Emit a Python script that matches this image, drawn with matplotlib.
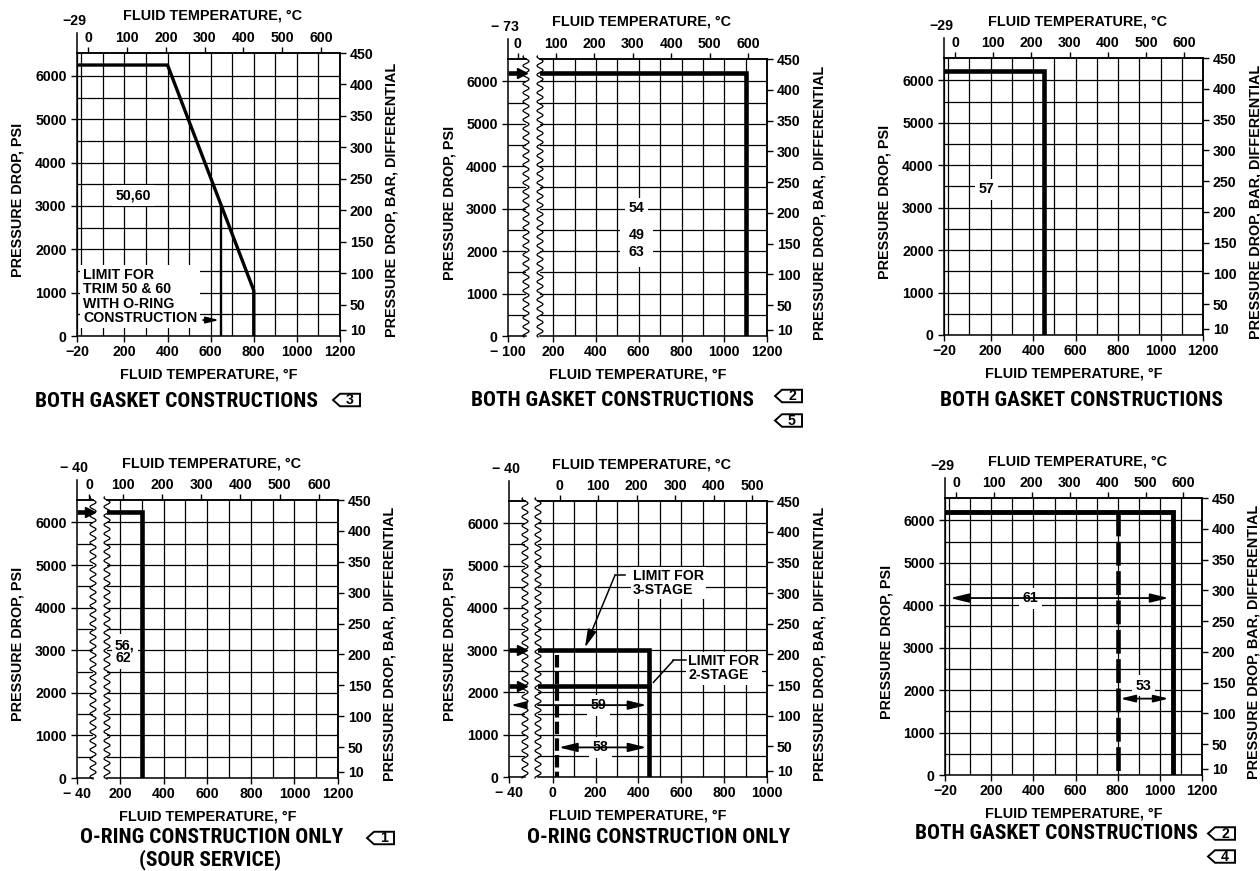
import numpy as np
import matplotlib
matplotlib.use("Agg")
import matplotlib.pyplot as plt
from matplotlib.lines import Line2D
from matplotlib.patches import Polygon
from matplotlib import font_manager

# ---------------- data ----------------
PSI_TICKS = [0, 1000, 2000, 3000, 4000, 5000, 6000]
PSI_MINOR = [500, 1500, 2500, 3500, 4500, 5500, 6000]
BAR_TICKS = [10, 50, 100, 150, 200, 250, 300, 350, 400, 450]
C_TICKS = [0, 100, 200, 300, 400, 500, 600]
C_TICKS_MAIN = [100, 200, 300, 400, 500, 600]
C_TICKS_P5 = [0, 100, 200, 300, 400, 500]
F_TICKS = [-20, 200, 400, 600, 800, 1000, 1200]
F_TICKS_MAIN = [200, 400, 600, 800, 1000, 1200]
F_TICKS_P5 = [0, 200, 400, 600, 800, 1000]
GRID_F = list(range(-100, 1300, 100))

# Panel 1 : trim 50, 60
p1_limit_F = [-20, 400, 800, 800]
p1_limit_psi = [6250, 6250, 1050, 0]
p1_oring_F = [650, 650]
p1_oring_psi = [3000, 0]

# Panel 2 : trim 54, 49, 63
p2_psi = 6200
p2_temp = 1100

# Panel 3 : trim 57
p3_psi = 6230
p3_temp = 450

# Panel 4 : trim 56, 62 (sour service)
p4_psi = 6250
p4_temp = 300

# Panel 5 : trim 58, 59
p5_psi_3stage = 3000
p5_psi_2stage = 2160
p5_temp = 450
p5_dash_temp = 20
p5_59_psi = 1700
p5_58_psi = 700

# Panel 6 : trim 61, 53
p6_psi = 6200
p6_temp = 1060
p6_dash_temp = 800
p6_61_psi = 4170
p6_53_psi = 1800

# ---------------- figure ----------------
W, H = 1260, 871
fig = plt.figure(figsize=(W / 100, H / 100), dpi=100)
fig.patch.set_facecolor("white")

names = {f.name for f in font_manager.fontManager.ttflist}
BOLD = "Liberation Sans" if "Liberation Sans" in names else "DejaVu Sans"
CAPF = next((n for n in ["Liberation Sans Narrow", "Roboto Condensed",
                         "Open Sans Condensed"] if n in names), BOLD)
plt.rcParams["font.family"] = [BOLD, "DejaVu Sans"]
plt.rcParams["font.weight"] = "bold"
plt.rcParams["font.size"] = 10

rend = fig.canvas.get_renderer()


def fit(s, target, **kw):
    t = fig.text(0, 0, s, fontsize=10, fontweight="bold", **kw)
    w = t.get_window_extent(rend).width
    t.remove()
    return 10 * target / w


TICK_FS = fit("1200", 31.5)
LAB_FS = fit("FLUID TEMPERATURE, \u00b0F", 177)
CAP_FS = fit("BOTH GASKET CONSTRUCTIONS", 282, family=CAPF)
GRID_LW = 0.9
SPINE_LW = 1.1
THICK = 3.3


def frac(L, T, R, B):
    return [L / W, 1 - B / H, (R - L) / W, (B - T) / H]


def f2c(f):
    return (np.asarray(f, dtype=float) - 32) / 1.8


def c2f(c):
    return np.asarray(c, dtype=float) * 1.8 + 32


def psi2bar(p):
    return np.asarray(p, dtype=float) / 14.5038


def bar2psi(b):
    return np.asarray(b, dtype=float) * 14.5038


PSI_TOP = float(bar2psi(max(BAR_TICKS))) + 1   # top of the grid = 450 bar


def neg_label(v, spaced):
    v = int(round(float(v)))
    if v < 0:
        return ("\u2212 " if spaced else "\u2212") + str(abs(v))
    return str(v)


def setup(ax, xlim, xticks, cticks, spaced, left, xgrid):
    ax.set_xlim(*xlim)
    ax.set_ylim(0, PSI_TOP)
    ax.set_xticks(xticks, labels=[neg_label(v, spaced) for v in xticks])
    ax.set_yticks(PSI_TICKS)
    ax.set_yticks(PSI_MINOR, minor=True)
    if xgrid:
        ax.set_xticks([v for v in GRID_F if xlim[0] < v < xlim[1]], minor=True)
        ax.grid(which="both", color="k", lw=GRID_LW)
    else:
        ax.grid(which="both", axis="y", color="k", lw=GRID_LW)
    ax.tick_params(which="minor", length=0)
    ax.tick_params(which="major", direction="out", length=4, width=1,
                   labelsize=TICK_FS, colors="k")
    ax.tick_params(axis="x", pad=2.5)
    ax.tick_params(axis="y", pad=3.5, left=left, labelleft=left,
                   right=False, labelright=False)
    for s in ax.spines.values():
        s.set_linewidth(SPINE_LW)
    sec = ax.secondary_xaxis("top", functions=(f2c, c2f))
    sec.set_xticks(cticks, labels=[str(c) for c in cticks])
    sec.tick_params(direction="out", length=4, width=1, pad=1.5, labelsize=TICK_FS)
    sec.spines["top"].set_linewidth(SPINE_LW)
    return sec


def wave(x, T, B, amp=3.0, period=9.0):
    ys = np.linspace(T - 3, B + 1, 500)
    xs = x + amp * np.sin(2 * np.pi * (ys - T) / period)
    fig.add_artist(Line2D(xs / W, 1 - ys / H, color="k", lw=0.9))


def ftext(x, y, s, **kw):
    kw.setdefault("ha", "center")
    kw.setdefault("va", "center")
    kw.setdefault("fontsize", LAB_FS)
    kw.setdefault("fontweight", "bold")
    return fig.text(x / W, 1 - y / H, s, **kw)


def build(L, T, R, B, xlim, xticks, cticks, spaced=False, strip=None):
    if strip is None:
        ax = fig.add_axes(frac(L, T, R, B))
        setup(ax, xlim, xticks, cticks, spaced, left=True, xgrid=True)
        axs = None
        xmin = xlim[0]
    else:
        sr, ml, sxlim, sxt, sct = strip
        axs = fig.add_axes(frac(L, T, sr, B))
        ax = fig.add_axes(frac(ml, T, R, B))
        setup(axs, sxlim, sxt, sct, spaced, left=True, xgrid=False)
        setup(ax, xlim, xticks, cticks, spaced, left=False, xgrid=True)
        axs.spines["right"].set_visible(False)
        ax.spines["left"].set_visible(False)
        wave(sr, T, B)
        wave(ml, T, B)
        xmin = sxlim[0]
    secy = ax.secondary_yaxis("right", functions=(psi2bar, bar2psi))
    secy.set_yticks(BAR_TICKS, labels=[str(b) for b in BAR_TICKS])
    secy.tick_params(direction="out", length=4, width=1, pad=3, labelsize=TICK_FS)
    secy.spines["right"].set_linewidth(SPINE_LW)

    cx, cy = (L + R) / 2, (T + B) / 2
    ftext(cx + 4, T - 37, "FLUID TEMPERATURE, \u00b0C")
    ftext(cx, B + 38, "FLUID TEMPERATURE, \u00b0F")
    ftext(L - 59, cy + 5, "PRESSURE DROP, PSI", rotation=90)
    ftext(R + 52, cy + 5, "PRESSURE DROP, BAR, DIFFERENTIAL", rotation=90)
    # extended left edge with the Celsius equivalent of the lowest temperature
    fig.add_artist(Line2D([L / W, L / W], [1 - T / H, 1 - (T - 20) / H],
                          color="k", lw=SPINE_LW))
    ftext(L - 3, T - 32, neg_label(f2c(xmin), spaced), fontsize=TICK_FS)
    return axs, ax


def lbl(ax, x, y, s, ha="center", pad=0.25, ls=1.15):
    ax.text(x, y, s, ha=ha, va="center", fontsize=TICK_FS, fontweight="bold",
            linespacing=ls, zorder=5,
            bbox=dict(boxstyle=f"square,pad={pad}", fc="white", ec="none"))


def arrow(ax, x0, x1, y, style="<|-|>", ms=10):
    ax.annotate("", xy=(x1, y), xytext=(x0, y), annotation_clip=False,
                arrowprops=dict(arrowstyle=f"{style},head_length=1.1,head_width=0.27",
                                lw=1.3, color="k", shrinkA=0, shrinkB=0,
                                mutation_scale=ms), zorder=6)


def strip_arrow(axs, y):
    x0, x1 = axs.get_xlim()
    span = x1 - x0
    axs.plot([x0, x1 - 0.22 * span], [y, y], color="k", lw=THICK,
             solid_capstyle="butt", zorder=4)
    axs.plot([x1 - 0.2 * span], [y], marker=">", ms=6.5, color="k",
             clip_on=False, zorder=4)


def caption(x, y, s):
    ftext(x, y, s, fontsize=CAP_FS, family=CAPF, fontweight="bold")


def tag(left, cy, num):
    w, h, d = 27, 12.5, 7
    pts = [(left, cy), (left + d, cy - h / 2), (left + w, cy - h / 2),
           (left + w, cy + h / 2), (left + d, cy + h / 2)]
    fig.add_artist(Polygon([(x / W, 1 - y / H) for x, y in pts], closed=True,
                           fill=False, lw=1.4, ec="k", transform=fig.transFigure))
    ftext(left + d + (w - d) / 2, cy, num, fontsize=TICK_FS)


# ---------------- Panel 1 ----------------
_, ax = build(77, 53, 340, 336, (-20, 1200), F_TICKS, C_TICKS)
ax.plot(p1_limit_F, p1_limit_psi, color="k", lw=2.4, solid_joinstyle="miter", zorder=4)
ax.plot(p1_oring_F, p1_oring_psi, color="k", lw=1.7, zorder=4)
lbl(ax, 241, 3240, "50,60")
lbl(ax, 8, 908, "LIMIT FOR\nTRIM 50 & 60\nWITH O-RING\nCONSTRUCTION", ha="left",
    pad=0.2, ls=1.05)
arrow(ax, 565, 640, 368, style="-|>", ms=7)
caption(176, 401, "BOTH GASKET CONSTRUCTIONS")
tag(333, 400, "3")

# ---------------- Panel 2 ----------------
axs, ax = build(508, 59, 767, 336, (138, 1200), F_TICKS_MAIN, C_TICKS_MAIN,
                spaced=True, strip=(526, 540, (-100, 145), [-100], [0]))
strip_arrow(axs, p2_psi)
x0 = ax.get_xlim()[0]
ax.plot([x0, p2_temp, p2_temp], [p2_psi, p2_psi, 0], color="k", lw=THICK,
        solid_joinstyle="miter", zorder=4)
lbl(ax, 591, 3007, "54")
lbl(ax, 591, 2185, "49\n63", pad=0.6, ls=1.25)
caption(612, 400, "BOTH GASKET CONSTRUCTIONS")
tag(775, 396, "2")
tag(775, 420.5, "5")

# ---------------- Panel 3 ----------------
_, ax = build(944, 58, 1203, 335, (-20, 1200), F_TICKS, C_TICKS)
ax.plot([-20, p3_temp, p3_temp], [p3_psi, p3_psi, 0], color="k", lw=THICK,
        solid_joinstyle="miter", zorder=4)
lbl(ax, 181, 3430, "57")
caption(1081, 400, "BOTH GASKET CONSTRUCTIONS")

# ---------------- Panel 4 ----------------
axs, ax = build(77, 500, 338, 778, (140, 1200), F_TICKS_MAIN, C_TICKS_MAIN,
                spaced=True, strip=(93, 107, (-40, 54), [-40], [0]))
strip_arrow(axs, p4_psi)
x0 = ax.get_xlim()[0]
ax.plot([x0, p4_temp, p4_temp], [p4_psi, p4_psi, 0], color="k", lw=THICK,
        solid_joinstyle="miter", zorder=4)
lbl(ax, 177, 2965, "56,\n62", ha="left", pad=0.25, ls=0.95)
caption(212, 837, "O-RING CONSTRUCTION ONLY")
caption(210, 860, "(SOUR SERVICE)")
tag(367, 838, "1")

# ---------------- Panel 5 ----------------
axs, ax = build(509, 501, 767, 777, (-69, 1000), F_TICKS_P5, C_TICKS_P5,
                spaced=True, strip=(525, 538, (-40, 35), [-40], []))
strip_arrow(axs, p5_psi_3stage)
strip_arrow(axs, p5_psi_2stage)
x0 = ax.get_xlim()[0]
ax.plot([x0, p5_temp, p5_temp], [p5_psi_3stage, p5_psi_3stage, 0], color="k",
        lw=THICK, solid_joinstyle="miter", zorder=4)
ax.plot([x0, p5_temp], [p5_psi_2stage, p5_psi_2stage], color="k", lw=THICK, zorder=4)
ax.plot([p5_dash_temp, p5_dash_temp], [p5_psi_3stage - 120, 0], color="k", lw=3.0,
        dashes=(3, 1), solid_capstyle="butt", zorder=4)
# 59 range (from the low end in the broken part up to 450 F)
sx0, sx1 = axs.get_xlim()
arrow(axs, sx1, sx0 + 8, p5_59_psi, style="-|>", ms=8)
arrow(ax, x0, p5_temp - 12, p5_59_psi, style="-|>")
lbl(ax, 212, p5_59_psi, "59")
arrow(ax, p5_dash_temp + 8, p5_temp - 12, p5_58_psi)
lbl(ax, 221, p5_58_psi, "58")
# limit call-outs
lbl(ax, 373, 4590, "LIMIT FOR\n3-STAGE", ha="left", pad=0.15, ls=1.05)
ax.plot([335, 290], [4766, 4766], color="k", lw=1.1, zorder=6)
ax.annotate("", xy=(150, 3060), xytext=(290, 4766), zorder=6,
            arrowprops=dict(arrowstyle="-|>,head_length=1.1,head_width=0.27",
                            lw=1.1, color="k", shrinkA=0, shrinkB=0, mutation_scale=10))
lbl(ax, 633, 2573, "LIMIT FOR\n2-STAGE", ha="left", pad=0.15, ls=1.05)
ax.plot([620, 563], [2757, 2757], color="k", lw=1.1, zorder=6)
ax.annotate("", xy=(469, 2234), xytext=(563, 2757), zorder=6,
            arrowprops=dict(arrowstyle="-", lw=1.1, color="k", shrinkA=0, shrinkB=0))
caption(659, 837, "O-RING CONSTRUCTION ONLY")

# ---------------- Panel 6 ----------------
_, ax = build(945, 498, 1202, 775, (-20, 1200), F_TICKS, C_TICKS)
ax.plot([-20, p6_temp, p6_temp], [p6_psi, p6_psi, 0], color="k", lw=3.5,
        solid_joinstyle="miter", zorder=4)
ax.plot([p6_dash_temp, p6_dash_temp], [p6_psi, 0], color="k", lw=3.3,
        dashes=(5.2, 1.2), solid_capstyle="butt", zorder=4)
arrow(ax, 5, p6_temp - 18, p6_61_psi)
lbl(ax, 384, p6_61_psi, "61")
arrow(ax, p6_dash_temp + 12, p6_temp - 18, p6_53_psi, ms=8)
lbl(ax, 922, 2104, "53")
caption(1056, 833, "BOTH GASKET CONSTRUCTIONS")
tag(1208, 833.5, "2")
tag(1208, 856.5, "4")

fig.savefig("out.png", dpi=100)
